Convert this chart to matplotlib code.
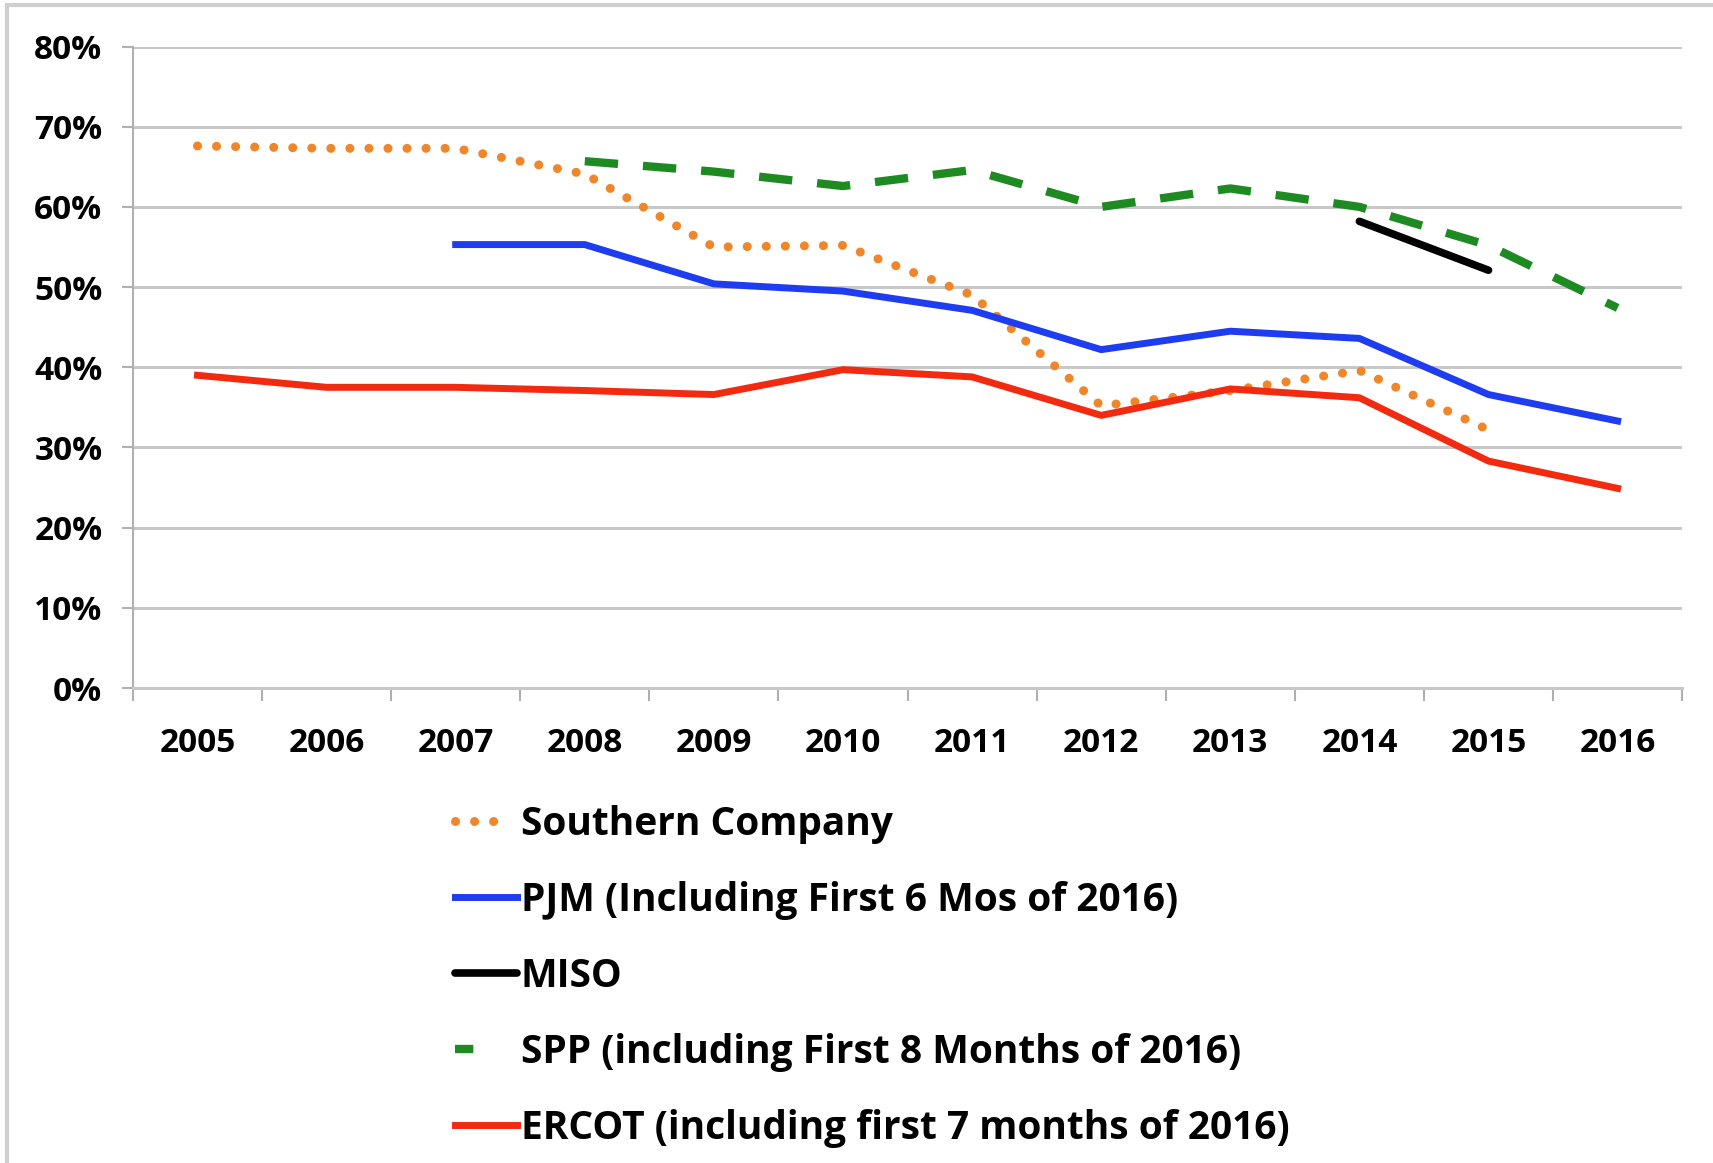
import matplotlib
matplotlib.use('Agg')
import matplotlib.pyplot as plt
import numpy as np
from matplotlib.ticker import PercentFormatter
from matplotlib.patches import Rectangle

plt.rcParams['font.family'] = ['Open Sans', 'DejaVu Sans']

years = ['2005', '2006', '2007', '2008', '2009', '2010',
         '2011', '2012', '2013', '2014', '2015', '2016']
nan = np.nan
southern = [67.6, 67.3, 67.3, 64.1, 55.0, 55.2, 49.0, 35.2, 37.1, 39.6, 32.2, nan]
pjm = [nan, nan, 55.3, 55.3, 50.4, 49.5, 47.1, 42.2, 44.5, 43.6, 36.6, 33.3]
miso = [nan, nan, nan, nan, nan, nan, nan, nan, nan, 58.2, 52.1, nan]
spp = [nan, nan, nan, 65.7, 64.4, 62.6, 64.6, 60.0, 62.3, 60.0, 55.2, 47.4]
ercot = [39.0, 37.5, 37.5, 37.1, 36.6, 39.7, 38.8, 34.0, 37.3, 36.2, 28.3, 24.9]

labels = ['Southern Company',
          'PJM (Including First 6 Mos of 2016)',
          'MISO',
          'SPP (including First 8 Months of 2016)',
          'ERCOT (including first 7 months of 2016)']

fig = plt.figure(figsize=(17.13, 11.63), dpi=100)
ax = fig.add_axes([0.0776, 0.4084, 0.9044, 0.5516])

x = np.arange(len(years))
h1, = ax.plot(x, southern, color='#F0862A', lw=6.5, linestyle=(0, (0.01, 2.1)),
              dash_capstyle='round', solid_capstyle='round')
h2, = ax.plot(x, pjm, color='#1E3CF0', lw=5)
h3, = ax.plot(x, miso, color='black', lw=5.5, solid_capstyle='round')
h4, = ax.plot(x, spp, color='#1D8A22', lw=6, linestyle=(0, (4.0, 3.0)))
h5, = ax.plot(x, ercot, color='#F22A10', lw=5)

ax.set_xlim(-0.5, 11.5)
ax.set_ylim(0, 80)
ax.set_yticks(np.arange(0, 81, 10))
ax.yaxis.set_major_formatter(PercentFormatter(decimals=0))
ax.set_xticks(x)
ax.set_xticklabels(years)
ax.set_xticks(np.arange(-0.5, 12, 1), minor=True)
ax.tick_params(axis='x', which='major', length=0, pad=28, labelsize=24)
ax.tick_params(axis='x', which='minor', length=9, width=1.5, color='#b0b0b0', direction='out')
ax.tick_params(axis='y', length=8, width=1.5, color='#b0b0b0', pad=14, labelsize=24)
for lab in ax.get_xticklabels() + ax.get_yticklabels():
    lab.set_fontweight('bold')

ax.grid(axis='y', color='#c8c8c8', lw=2.2)
ax.set_axisbelow(True)
for s in ['top', 'right']:
    ax.spines[s].set_visible(False)
ax.spines['left'].set_color('#b0b0b0')
ax.spines['left'].set_linewidth(1.5)
ax.spines['bottom'].set_color('#c8c8c8')
ax.spines['bottom'].set_linewidth(2.2)

leg = fig.legend([h1, h2, h3, h4, h5], labels, loc='upper left',
                 bbox_to_anchor=(0.245, 0.338), frameon=False,
                 prop={'size': 28, 'weight': 'bold'},
                 handlelength=1.6, handletextpad=0.1, labelspacing=0.95)
# legend keys styled like the original
leg.legend_handles[0].set_dashes([0.01, 2.1, 0.01, 2.1, 0.01, 12])
leg.legend_handles[3].set_dashes([2.2, 8])

# light border around the whole picture
fig.patches.append(Rectangle((0.004, -0.01), 1.2, 1.006, transform=fig.transFigure,
                             fill=False, edgecolor='#cfcfcf', lw=3))

fig.savefig('out.png', dpi=100)
